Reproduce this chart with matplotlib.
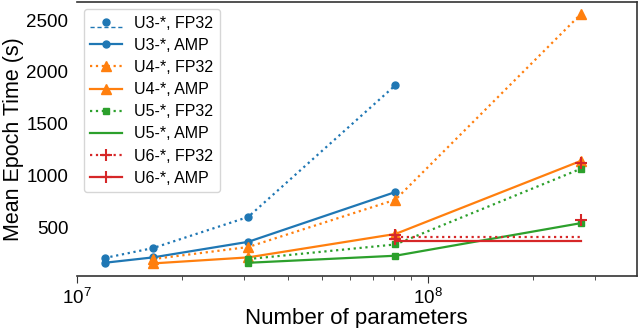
import matplotlib
matplotlib.use('Agg')
import matplotlib.pyplot as plt
from matplotlib.lines import Line2D
from matplotlib.legend_handler import HandlerLine2DCompound

plt.rcParams['font.family'] = ['Liberation Sans', 'DejaVu Sans']

# number of parameters of the model sizes
params = [1.2e7, 1.65e7, 3.08e7, 8.1e7, 2.73e8]

u3_fp32 = [204, 300, 600, 1872]
u3_amp = [158, 210, 360, 841]
u4_fp32 = [194, 310, 767, 2555]
u4_amp = [152, 210, 436, 1140]
u5_fp32 = [194, 335, 1064]
u5_amp = [158, 226, 540]
u6_fp32 = [425, 1122]
u6_amp = [390, 574]
u6_fp32_flat = [403, 403]
u6_amp_flat = [371, 371]

blue, orange, green, red = '#1f77b4', '#ff7f0e', '#2ca02c', '#d62728'


class OffsetLineHandler(HandlerLine2DCompound):
    # marker stays at text height, line drawn a bit lower
    def create_artists(self, legend, orig_handle, xdescent, ydescent,
                       width, height, fontsize, trans):
        arts = super().create_artists(legend, orig_handle, xdescent, ydescent,
                                      width, height, fontsize, trans)
        line = arts[0]
        line.set_ydata([y - 0.45 * height for y in line.get_ydata()])
        line.set_linestyle((0, (3, 2)))
        line.set_linewidth(1.0)
        return arts


fig = plt.figure(figsize=(6.4, 3.28), dpi=100)
ax = fig.add_axes([0.12, 0.159, 0.875, 0.835])

lw = 1.6
ax.plot(params[:4], u3_fp32, ':', color=blue, lw=lw, marker='o', ms=5)
ax.plot(params[:4], u3_amp, '-', color=blue, lw=lw, marker='o', ms=5)
ax.plot(params[1:], u4_fp32, ':', color=orange, lw=lw, marker='^', ms=7)
ax.plot(params[1:], u4_amp, '-', color=orange, lw=lw, marker='^', ms=7)
ax.plot(params[2:], u5_fp32, ':', color=green, lw=lw, marker='s', ms=5)
ax.plot(params[2:], u5_amp, '-', color=green, lw=lw, marker='s', ms=5)
ax.plot(params[3:], u6_fp32_flat, ':', color=red, lw=lw)
ax.plot(params[3:], u6_amp_flat, '-', color=red, lw=lw)
ax.plot(params[3:], u6_fp32, '+', color=red, ms=8, mew=1.5)
ax.plot(params[3:], u6_amp, '+', color=red, ms=8, mew=1.5)

ax.set_xscale('log')
ax.set_xlim(1e7, 3.95e8)

ax.set_xlabel('Number of parameters', fontsize=16, labelpad=0)
ax.set_ylabel('Mean Epoch Time (s)', fontsize=15.5, labelpad=2)
ax.tick_params(axis='x', labelsize=13.5, length=5, color='0.2')
ax.tick_params(axis='x', which='minor', length=3, color='0.2')
ax.tick_params(axis='y', labelsize=13.5, length=0, pad=6)

ax.spines['left'].set_visible(False)
for s in ['top', 'right', 'bottom']:
    ax.spines[s].set_color('0.2')
    ax.spines[s].set_linewidth(1.2)

h_u3_fp32 = Line2D([], [], ls=':', color=blue, lw=lw, marker='o', ms=5)
handles = [
    h_u3_fp32,
    Line2D([], [], ls='-', color=blue, lw=lw, marker='o', ms=5),
    Line2D([], [], ls=':', color=orange, lw=lw, marker='^', ms=7),
    Line2D([], [], ls='-', color=orange, lw=lw, marker='^', ms=7),
    Line2D([], [], ls=':', color=green, lw=lw, marker='s', ms=5),
    Line2D([], [], ls='-', color=green, lw=lw),
    Line2D([], [], ls=':', color=red, lw=lw, marker='+', ms=8, mew=1.5),
    Line2D([], [], ls='-', color=red, lw=lw, marker='+', ms=8, mew=1.5),
]
labels = ['U3-*, FP32', 'U3-*, AMP', 'U4-*, FP32', 'U4-*, AMP',
          'U5-*, FP32', 'U5-*, AMP', 'U6-*, FP32', 'U6-*, AMP']
ax.legend(handles, labels, loc='upper left', fontsize=11.5,
          handler_map={h_u3_fp32: OffsetLineHandler()},
          borderaxespad=0.45, labelspacing=0.45, handlelength=2.0,
          handletextpad=0.75, fancybox=True, edgecolor='0.8')

fig.savefig('out.png', dpi=100)
